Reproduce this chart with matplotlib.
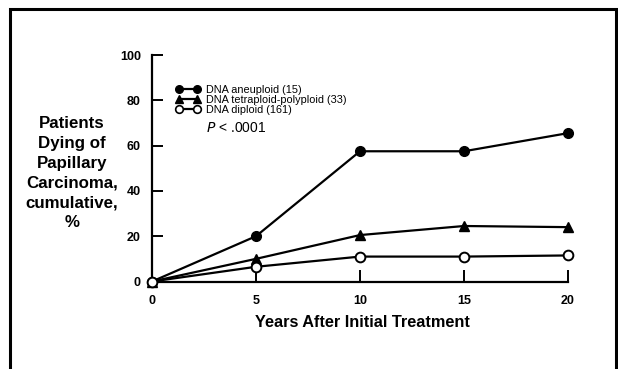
import matplotlib
matplotlib.use("Agg")
import matplotlib.pyplot as plt
from matplotlib.patches import Rectangle
from matplotlib.lines import Line2D

years = [0, 5, 10, 15, 20]
aneuploid = [0, 20, 57.5, 57.5, 65.5]
tetraploid = [0, 10, 20.5, 24.5, 24]
diploid = [0, 6.5, 11, 11, 11.5]
labels = ["DNA aneuploid (15)", "DNA tetraploid-polyploid (33)", "DNA diploid (161)"]
yticks = [0, 20, 40, 60, 80, 100]
xticks = [0, 5, 10, 15, 20]

plt.rcParams['font.family'] = ['Liberation Sans', 'DejaVu Sans']

fig = plt.figure(figsize=(6.18, 3.69), dpi=100)
ax = fig.add_axes([152/618, 1-281.5/369, (568-152)/618, (281.5-55)/369])

ax.plot(years, aneuploid, color='black', lw=1.6, marker='o', ms=7, mfc='black', mec='black', clip_on=False, zorder=3)
ax.plot(years, tetraploid, color='black', lw=1.6, marker='^', ms=7.5, mfc='black', mec='black', clip_on=False, zorder=3)
ax.plot(years, diploid, color='black', lw=1.6, marker='o', ms=7, mfc='white', mec='black', mew=1.4, clip_on=False, zorder=3)

ax.set_xlim(0, 20)
ax.set_ylim(0, 100)
for s in ['top', 'right']:
    ax.spines[s].set_visible(False)
for s in ['left', 'bottom']:
    ax.spines[s].set_linewidth(1.6)

ax.set_yticks(yticks)
ax.set_yticklabels([str(v) for v in yticks], fontsize=9, fontweight='bold')
ax.tick_params(axis='y', direction='in', length=8, width=1.4, pad=8)
ax.set_xticks(xticks)
ax.set_xticklabels([str(v) for v in xticks], fontsize=9, fontweight='bold')
ax.tick_params(axis='x', direction='in', length=9, width=1.4, pad=10)
ax.xaxis.get_major_ticks()[0].tick1line.set_visible(False)
ax.yaxis.get_major_ticks()[0].tick1line.set_visible(False)

handles = [
    Line2D([], [], color='black', lw=1.6, marker='o', ms=5.5, mfc='black', mec='black'),
    Line2D([], [], color='black', lw=1.6, marker='^', ms=6, mfc='black', mec='black'),
    Line2D([], [], color='black', lw=1.6, marker='o', ms=5.5, mfc='white', mec='black', mew=1.2),
]
leg = ax.legend(handles, labels, loc='upper left', bbox_to_anchor=(0.058, 0.869), frameon=False,
                prop={'size': 7.8}, handlelength=2.2, handletextpad=0.6, labelspacing=0.0,
                borderaxespad=0, borderpad=0, numpoints=2)
ax.text(0.13, 0.677, "$\\mathit{P}$ < .0001", transform=ax.transAxes, fontsize=10, va='center')

fig.text(72/618, 1-173/369, "Patients\nDying of\nPapillary\nCarcinoma,\ncumulative,\n%",
         ha='center', va='center', fontsize=12.2, fontweight='bold', linespacing=1.4)
fig.text(362/618, 1-322.5/369, "Years After Initial Treatment", ha='center', va='center',
         fontsize=11.7, fontweight='bold')

fig.patches.append(Rectangle((9.5/618, -0.05), (616-9.5)/618, 1.05 - 9.5/369, transform=fig.transFigure,
                             fill=False, ec='black', lw=2.2))

fig.savefig("out.png", dpi=100)
